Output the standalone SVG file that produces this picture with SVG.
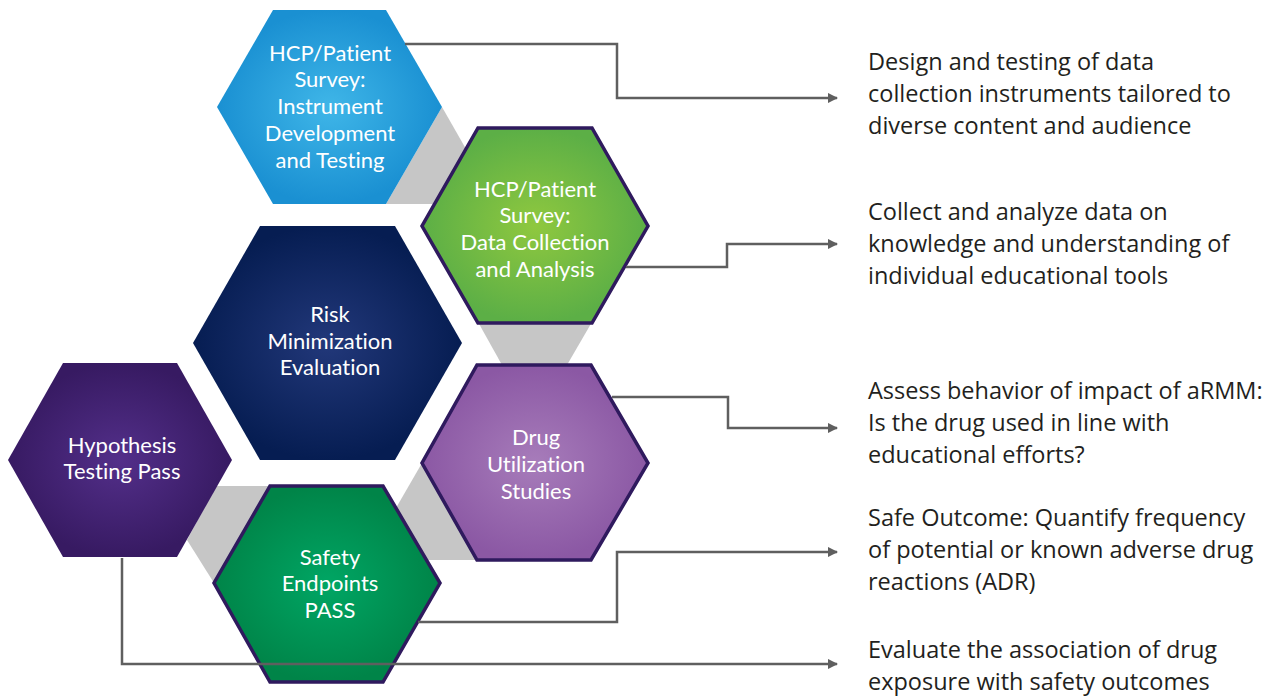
<svg xmlns="http://www.w3.org/2000/svg" width="1272" height="696" viewBox="0 0 1272 696">
<defs>
<radialGradient id="gBlue"><stop offset="0" stop-color="#3fb6e8"/><stop offset="1" stop-color="#1a90d2"/></radialGradient>
<radialGradient id="gGreen"><stop offset="0" stop-color="#8fc83f"/><stop offset="1" stop-color="#5caf46"/></radialGradient>
<radialGradient id="gNavy"><stop offset="0" stop-color="#22387a"/><stop offset="1" stop-color="#061d52"/></radialGradient>
<radialGradient id="gHyp"><stop offset="0" stop-color="#532f8a"/><stop offset="1" stop-color="#371a62"/></radialGradient>
<radialGradient id="gDrug"><stop offset="0" stop-color="#a77cba"/><stop offset="1" stop-color="#8b58a4"/></radialGradient>
<radialGradient id="gSafe"><stop offset="0" stop-color="#00a664"/><stop offset="1" stop-color="#008448"/></radialGradient>
<marker id="arr" viewBox="0 0 10 10" refX="9" refY="5" markerWidth="4.2" markerHeight="4.2" markerUnits="strokeWidth" orient="auto"><path d="M0,0 L10,5 L0,10 Z" fill="#5f5f5f"/></marker>
</defs>
<style>
.band{fill:#c6c6c6}
.hx{stroke:#2f1a5e;stroke-width:3.5;stroke-linejoin:miter}
.ht{font-family:Lato,"Open Sans","Liberation Sans",sans-serif;font-size:22px;fill:#ffffff;text-anchor:middle;font-variant-ligatures:none;font-feature-settings:"liga" 0,"clig" 0,"dlig" 0}
.rt{font-family:"Open Sans","Liberation Sans",sans-serif;font-size:23.5px;fill:#231f20}
.cn{fill:none;stroke:#5f5f5f;stroke-width:2.5;marker-end:url(#arr)}
</style>
<rect width="1272" height="696" fill="#ffffff"/>
<g id="bands">
<polygon class="band" points="442,107 466,149 435,204 386,204"/>
<polygon class="band" points="478,322 592,322 567,365 502,365"/>
<polygon class="band" points="422,463 396,508 426.5,560 477,560"/>
<polygon class="band" points="216,486 270,486 214,583 187,540"/>
</g>
<g id="node-instrument">
<polygon points="273,10 386,10 442,107 386,204 273,204 217,107" fill="url(#gBlue)"/>
<text class="ht" x="330" y="60.5">HCP/Patient</text>
<text class="ht" x="330" y="87">Survey:</text>
<text class="ht" x="330" y="113.5">Instrument</text>
<text class="ht" x="330" y="140.5">Development</text>
<text class="ht" x="330" y="167.5">and Testing</text>
</g>
<g id="node-datacollection">
<polygon class="hx" points="478,128 592,128 648,226 592,323 478,323 422,226" fill="url(#gGreen)"/>
<text class="ht" x="535" y="196.5">HCP/Patient</text>
<text class="ht" x="535" y="223">Survey:</text>
<text class="ht" x="535" y="249.5">Data Collection</text>
<text class="ht" x="535" y="276.5">and Analysis</text>
</g>
<g id="node-risk">
<polygon points="260,226 395,226 462,343 395,460 260,460 193,343" fill="url(#gNavy)"/>
<text class="ht" x="330" y="321.5">Risk</text>
<text class="ht" x="330" y="348.5">Minimization</text>
<text class="ht" x="330" y="375">Evaluation</text>
</g>
<g id="node-hypothesis">
<polygon points="63,363 177,363 232,460 177,557 63,557 8,460" fill="url(#gHyp)"/>
<text class="ht" x="122" y="452.5">Hypothesis</text>
<text class="ht" x="122" y="479">Testing Pass</text>
</g>
<g id="node-drug">
<polygon class="hx" points="477,365 591,365 648,463 591,560 477,560 422,463" fill="url(#gDrug)"/>
<text class="ht" x="536" y="444.5">Drug</text>
<text class="ht" x="536" y="471.5">Utilization</text>
<text class="ht" x="536" y="498.5">Studies</text>
</g>
<g id="node-safety">
<polygon class="hx" points="270,486 383,486 440,583 383,682 270,682 214,583" fill="url(#gSafe)"/>
<text class="ht" x="330" y="564.5">Safety</text>
<text class="ht" x="330" y="591">Endpoints</text>
<text class="ht" x="330" y="617.5">PASS</text>
</g>
<g id="connectors">
<polyline class="cn" points="405,44 617,44 617,98 837,98"/>
<polyline class="cn" points="626,267 727,267 727,244 837,244"/>
<polyline class="cn" points="612,397 728,397 728,428 837,428"/>
<polyline class="cn" points="418,622 617,622 617,552 837,552"/>
<polyline class="cn" points="122,558 122,664 837,664"/>
</g>
<g id="descriptions">
<text class="rt" x="868" y="70">Design and testing of data</text>
<text class="rt" x="868" y="102">collection instruments tailored to</text>
<text class="rt" x="868" y="134">diverse content and audience</text>
<text class="rt" x="868" y="220">Collect and analyze data on</text>
<text class="rt" x="868" y="252">knowledge and understanding of</text>
<text class="rt" x="868" y="284">individual educational tools</text>
<text class="rt" x="868" y="399">Assess behavior of impact of aRMM:</text>
<text class="rt" x="868" y="431">Is the drug used in line with</text>
<text class="rt" x="868" y="463">educational efforts?</text>
<text class="rt" x="868" y="526">Safe Outcome: Quantify frequency</text>
<text class="rt" x="868" y="558">of potential or known adverse drug</text>
<text class="rt" x="868" y="590">reactions (ADR)</text>
<text class="rt" x="868" y="658">Evaluate the association of drug</text>
<text class="rt" x="868" y="690">exposure with safety outcomes</text>
</g>
</svg>
